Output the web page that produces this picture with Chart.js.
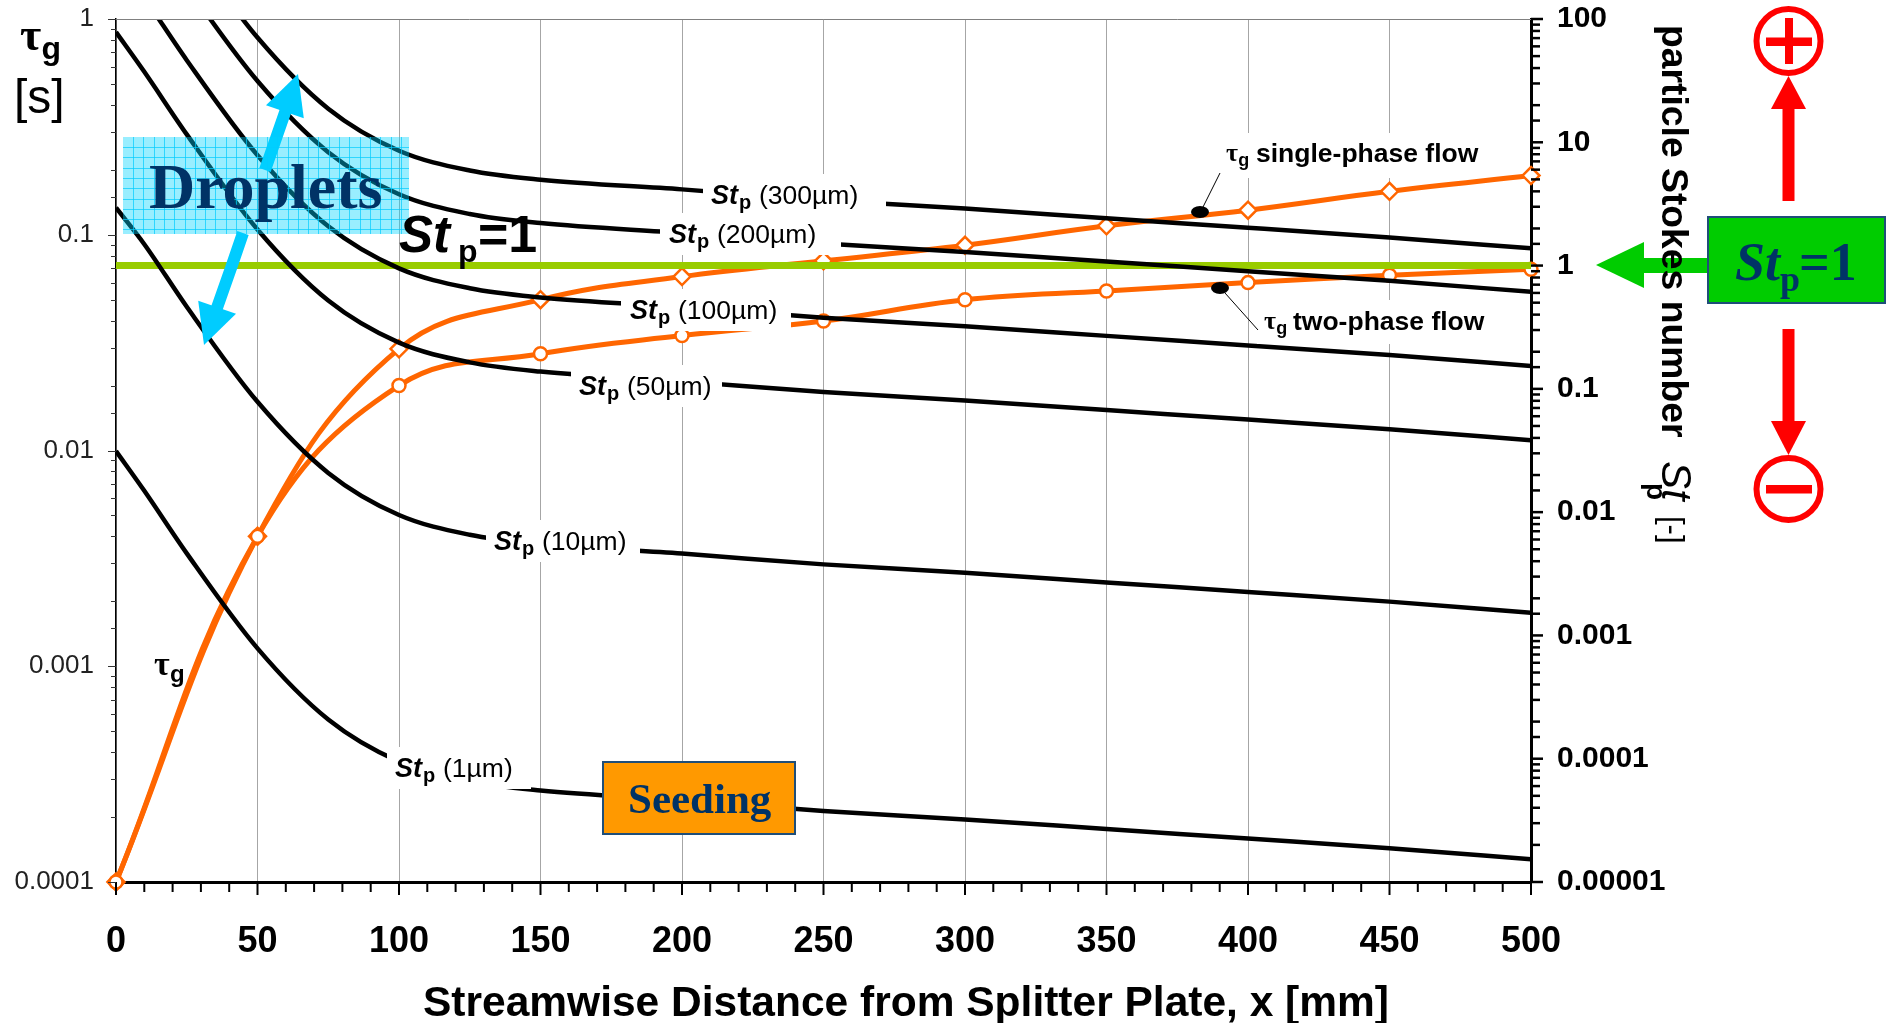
<!DOCTYPE html>
<html>
<head>
<meta charset="utf-8">
<title>Particle Stokes number</title>
<script src="https://cdn.jsdelivr.net/npm/chart.js@4/dist/chart.umd.min.js"></script>
<style>
    html, body { margin: 0; padding: 0; background: #fff; overflow: hidden; }
    canvas { display: block; }
</style>
</head>
<body>
<canvas id="stokesChart" width="1886" height="1023"></canvas>
<script>
// values
const distances = [0, 10, 25, 50, 75, 100, 125, 150, 200, 250, 300, 350, 400, 450, 500];
const st1um = [0.0313, 0.0149, 0.00463, 0.000785, 0.000208, 0.0000948, 0.0000655, 0.0000552, 0.0000461, 0.0000377, 0.0000322, 0.0000269, 0.0000225, 0.0000188, 0.0000153];
const st10um = [2.95, 1.49, 0.463, 0.0785, 0.0208, 0.00948, 0.00655, 0.00552, 0.00461, 0.00377, 0.00322, 0.00269, 0.00225, 0.00188, 0.00153];
const st50um = [78.3, 37.3, 11.6, 1.96, 0.52, 0.237, 0.164, 0.138, 0.115, 0.0943, 0.0805, 0.0673, 0.0563, 0.047, 0.0383];
const st100um = [313, 149, 46.3, 7.85, 2.08, 0.948, 0.655, 0.552, 0.461, 0.377, 0.322, 0.269, 0.225, 0.188, 0.153];
const st200um = [1252, 596, 185, 31.4, 8.32, 3.79, 2.62, 2.21, 1.84, 1.51, 1.29, 1.08, 0.9, 0.752, 0.612];
const st300um = [2817, 1341, 417, 70.7, 18.7, 8.53, 5.9, 4.97, 4.15, 3.39, 2.9, 2.42, 2.03, 1.69, 1.38];

const tauDistances = [0, 50, 100, 150, 200, 250, 300, 350, 400, 450, 500];
const tauSinglePhase = [0.0001, 0.004, 0.0296, 0.05, 0.064, 0.0757, 0.0894, 0.11, 0.13, 0.159, 0.188];
const tauTwoPhase = [0.0001, 0.004, 0.02, 0.0281, 0.0341, 0.0398, 0.05, 0.0549, 0.06, 0.0649, 0.0692];

const unityDistances = [0, 500];
const unityStokes = [1, 1];

const leftTickLabels = ['1', '0.1', '0.01', '0.001', '0.0001'];
const rightTickLabels = ['100', '10', '1', '0.1', '0.01', '0.001', '0.0001', '0.00001'];

const SANS = '"Liberation Sans", Arial, sans-serif';
const SERIF = '"Liberation Serif", "Times New Roman", serif';
const NAVY = '#003366';
const RED = '#ff0000';
const CYAN = '#00ccff';
const GREEN = '#00cc00';

function pairs(xs, ys) {
    return xs.map((x, i) => ({ x: x, y: ys[i] }));
}

function stDataset(values) {
    return {
        data: pairs(distances, values),
        yAxisID: 'yStokes',
        borderColor: '#000',
        borderWidth: 4.5,
        pointRadius: 0,
        cubicInterpolationMode: 'monotone',
        order: 1
    };
}

function tauDataset(values, marker) {
    return {
        data: pairs(tauDistances, values),
        yAxisID: 'yTau',
        borderColor: '#ff6600',
        borderWidth: 5,
        tension: 0.4,
        pointStyle: marker,
        pointRadius: marker === 'circle' ? 6.5 : 8.5,
        pointBorderWidth: 2.5,
        pointBackgroundColor: '#fff',
        pointBorderColor: '#ff6600',
        clip: false,
        order: 3
    };
}

// log scales would otherwise reserve half a label above the plot
function noPadding(scale) {
    scale.paddingTop = 0;
    scale.paddingBottom = 0;
    scale.paddingLeft = 0;
    scale.paddingRight = 0;
}

function text(ctx, str, x, y, font, color, align) {
    ctx.font = font;
    ctx.fillStyle = color || '#000';
    ctx.textAlign = align || 'left';
    ctx.textBaseline = 'alphabetic';
    ctx.fillText(str, x, y);
}

function arrowHead(ctx, tipX, tipY, angle, length, halfWidth) {
    ctx.save();
    ctx.translate(tipX, tipY);
    ctx.rotate(angle);
    ctx.beginPath();
    ctx.moveTo(0, 0);
    ctx.lineTo(-length, -halfWidth);
    ctx.lineTo(-length, halfWidth);
    ctx.closePath();
    ctx.fill();
    ctx.restore();
}

function whiteBox(ctx, x0, y0, x1, y1) {
    ctx.fillStyle = '#fff';
    ctx.fillRect(x0, y0, x1 - x0, y1 - y0);
}

// St_p (...) label on its white patch
function stLabel(ctx, size, textX, centerY, boxLeft, boxRight) {
    whiteBox(ctx, boxLeft, centerY - 21, boxRight, centerY + 21);
    const base = centerY + 9;
    text(ctx, 'St', textX, base, 'italic bold 27px ' + SANS);
    text(ctx, 'p', textX + 28, base + 5, 'bold 20px ' + SANS);
    text(ctx, '(' + size + ')', textX + 48, base, '26.5px ' + SANS);
}

function tauLabel(ctx, x, y, tauSize) {
    text(ctx, '\u03c4', x, y, 'bold ' + tauSize + 'px ' + SERIF);
    text(ctx, 'g', x + tauSize * 0.47, y + tauSize * 0.2, 'bold ' + Math.round(tauSize * 0.7) + 'px ' + SANS);
}

function drawTicks(ctx, chart) {
    const area = chart.chartArea;
    const xScale = chart.scales.x;
    const left = chart.scales.yTau;
    const right = chart.scales.yStokes;

    ctx.strokeStyle = '#808080';
    ctx.lineWidth = 1;
    ctx.beginPath();
    ctx.moveTo(area.left, area.top + 0.5);
    ctx.lineTo(area.right, area.top + 0.5);
    ctx.stroke();

    ctx.strokeStyle = '#000';
    xScale.ticks.forEach(t => {
        const px = xScale.getPixelForValue(t.value);
        const major = t.value % 50 === 0;
        ctx.lineWidth = 2;
        ctx.beginPath();
        ctx.moveTo(px, area.bottom);
        ctx.lineTo(px, area.bottom + (major ? 13 : 10));
        ctx.stroke();
    });

    ctx.strokeStyle = '#333';
    left.ticks.forEach(t => {
        const py = Math.round(left.getPixelForValue(t.value)) + 0.5;
        ctx.lineWidth = 1;
        ctx.beginPath();
        ctx.moveTo(area.left, py);
        ctx.lineTo(area.left - (t.major ? 8 : 5), py);
        ctx.stroke();
    });

    ctx.strokeStyle = '#000';
    right.ticks.forEach(t => {
        const py = right.getPixelForValue(t.value);
        ctx.lineWidth = 2.5;
        ctx.beginPath();
        ctx.moveTo(area.right, py);
        ctx.lineTo(area.right + (t.major ? 12 : 9), py);
        ctx.stroke();
    });
}

function drawCallouts(ctx) {
    // St_p curve labels
    stLabel(ctx, '300\u00b5m', 711, 195, 703, 886);
    stLabel(ctx, '200\u00b5m', 669, 234, 660, 841);
    stLabel(ctx, '100\u00b5m', 630, 310, 621, 791);
    stLabel(ctx, '50\u00b5m', 579, 386, 571, 722);
    stLabel(ctx, '10\u00b5m', 494, 541, 486, 640);
    stLabel(ctx, '1\u00b5m', 395, 768, 387, 531);

    // tau_g flow notes
    whiteBox(ctx, 1220, 133, 1482, 178);
    tauLabel(ctx, 1226, 161, 26);
    text(ctx, 'single-phase flow', 1256, 162, 'bold 26.5px ' + SANS);
    whiteBox(ctx, 1257, 300, 1490, 344);
    tauLabel(ctx, 1264, 329, 26);
    text(ctx, 'two-phase flow', 1293, 330, 'bold 26.5px ' + SANS);

    ctx.fillStyle = '#000';
    ctx.beginPath();
    ctx.ellipse(1200, 212, 9, 6, 0, 0, Math.PI * 2);
    ctx.fill();
    ctx.beginPath();
    ctx.ellipse(1220, 288, 9, 6, 0, 0, Math.PI * 2);
    ctx.fill();
    ctx.strokeStyle = '#000';
    ctx.lineWidth = 1;
    ctx.beginPath();
    ctx.moveTo(1203, 207);
    ctx.lineTo(1220, 173);
    ctx.moveTo(1225, 293);
    ctx.lineTo(1258, 330);
    ctx.stroke();

    tauLabel(ctx, 154, 675, 34);
}

function drawDroplets(ctx) {
    // double arrow sits under the hatched box, its middle hidden behind the word
    ctx.strokeStyle = CYAN;
    ctx.fillStyle = CYAN;
    ctx.lineWidth = 12;
    ctx.beginPath();
    ctx.moveTo(290, 98);
    ctx.lineTo(265, 170);
    ctx.moveTo(231, 268);
    ctx.lineTo(212, 322);
    ctx.moveTo(243, 233);
    ctx.lineTo(231, 268);
    ctx.stroke();
    const a = Math.atan2(345 - 74, 204 - 298);
    arrowHead(ctx, 298, 74, a + Math.PI, 40, 20);
    arrowHead(ctx, 204, 345, a, 40, 20);

    const box = { x: 123, y: 137, w: 286, h: 97 };
    ctx.fillStyle = 'rgba(0, 212, 255, 0.4)';
    ctx.fillRect(box.x, box.y, box.w, box.h);
    ctx.strokeStyle = 'rgba(0, 204, 255, 0.7)';
    ctx.lineWidth = 1;
    ctx.beginPath();
    for (let x = box.x + 10; x < box.x + box.w; x += 10.3) {
        ctx.moveTo(Math.round(x) + 0.5, box.y);
        ctx.lineTo(Math.round(x) + 0.5, box.y + box.h);
    }
    for (let y = box.y + 10; y < box.y + box.h; y += 10.3) {
        ctx.moveTo(box.x, Math.round(y) + 0.5);
        ctx.lineTo(box.x + box.w, Math.round(y) + 0.5);
    }
    ctx.stroke();
    text(ctx, 'Droplets', 149, 208, 'bold 64px ' + SERIF, NAVY);
}

function drawSeeding(ctx) {
    ctx.fillStyle = '#ff9900';
    ctx.fillRect(603, 762, 192, 72);
    ctx.strokeStyle = '#1f4e79';
    ctx.lineWidth = 2;
    ctx.strokeRect(603, 762, 192, 72);
    text(ctx, 'Seeding', 628, 813, 'bold 43px ' + SERIF, NAVY);
}

function drawUnityLabel(ctx) {
    text(ctx, 'St', 399, 252, 'italic bold 51px ' + SANS);
    text(ctx, 'p', 458, 262, 'bold 32px ' + SANS);
    text(ctx, '=1', 478, 252, 'bold 52px ' + SANS);
}

function drawAxisTitles(ctx) {
    text(ctx, 'Streamwise Distance from Splitter Plate, x [mm]', 906, 1016, 'bold 42.5px ' + SANS, '#000', 'center');

    tauLabel(ctx, 20, 50, 46);
    text(ctx, '[s]', 14, 113, '48px ' + SANS);

    ctx.save();
    ctx.translate(1662, 25);
    ctx.rotate(Math.PI / 2);
    text(ctx, 'particle Stokes number', 0, 0, 'bold 37.3px ' + SANS);
    text(ctx, 'St', 436, 0, 'italic 42px ' + SANS);
    text(ctx, 'p', 458, 15, 'bold 28px ' + SANS);
    text(ctx, '[-]', 491, 0, '31px ' + SANS);
    ctx.restore();
}

function drawRightPanel(ctx) {
    // green arrow and St_p=1 box
    ctx.fillStyle = GREEN;
    ctx.fillRect(1640, 258, 70, 15);
    arrowHead(ctx, 1596, 265, Math.PI, 48, 23);

    drawAxisTitles(ctx);

    ctx.fillStyle = GREEN;
    ctx.fillRect(1708, 217, 177, 86);
    ctx.strokeStyle = '#1f4e79';
    ctx.lineWidth = 2;
    ctx.strokeRect(1708, 217, 177, 86);
    text(ctx, 'St', 1735, 280, 'italic bold 54px ' + SERIF, NAVY);
    text(ctx, 'p', 1780, 291, 'bold 36px ' + SERIF, NAVY);
    text(ctx, '=1', 1799, 280, 'bold 54px ' + SERIF, NAVY);

    // plus and minus signs with arrows
    ctx.strokeStyle = RED;
    ctx.fillStyle = RED;
    ctx.lineWidth = 6;
    ctx.beginPath();
    ctx.ellipse(1788.5, 41, 32, 32, 0, 0, Math.PI * 2);
    ctx.stroke();
    ctx.fillRect(1766, 37.5, 46, 8.5);
    ctx.fillRect(1785, 18, 8, 46);
    ctx.beginPath();
    ctx.ellipse(1788.5, 489, 32, 31, 0, 0, Math.PI * 2);
    ctx.stroke();
    ctx.fillRect(1766, 485, 46, 8.5);

    ctx.fillRect(1782.5, 108, 12, 93);
    arrowHead(ctx, 1788.5, 76, -Math.PI / 2, 33, 17.5);
    ctx.fillRect(1782.5, 329, 12, 93);
    arrowHead(ctx, 1788.5, 455, Math.PI / 2, 34, 17.5);
}

const annotations = {
    id: 'annotations',
    afterDatasetsDraw(chart) {
        const ctx = chart.ctx;
        ctx.save();
        drawCallouts(ctx);
        drawTicks(ctx, chart);
        drawDroplets(ctx);
        drawSeeding(ctx);
        drawUnityLabel(ctx);
        drawRightPanel(ctx);
        ctx.restore();
    }
};

new Chart(document.getElementById('stokesChart'), {
    type: 'line',
    data: {
        datasets: [
            tauDataset(tauTwoPhase, 'circle'),
            tauDataset(tauSinglePhase, 'rectRot'),
            {
                data: pairs(unityDistances, unityStokes),
                yAxisID: 'yStokes',
                borderColor: '#99cc00',
                borderWidth: 7,
                pointRadius: 0,
                order: 2
            },
            stDataset(st1um),
            stDataset(st10um),
            stDataset(st50um),
            stDataset(st100um),
            stDataset(st200um),
            stDataset(st300um)
        ]
    },
    options: {
        responsive: false,
        animation: false,
        layout: { padding: { top: 19 } },
        plugins: {
            legend: { display: false },
            tooltip: { enabled: false }
        },
        scales: {
            x: {
                type: 'linear',
                min: 0,
                max: 500,
                afterFit: scale => { scale.height = 141; noPadding(scale); },
                ticks: {
                    stepSize: 10,
                    autoSkip: false,
                    maxRotation: 0,
                    padding: 38,
                    color: '#000',
                    font: { family: SANS, size: 36, weight: 'bold' },
                    callback: value => (value % 50 === 0 ? String(value) : '')
                },
                grid: {
                    drawTicks: false,
                    color: ctx => (ctx.tick && ctx.tick.value % 50 === 0 ? '#a6a6a6' : 'transparent'),
                    lineWidth: 1
                },
                border: { color: '#000', width: 3 }
            },
            yTau: {
                type: 'logarithmic',
                position: 'left',
                min: 0.0001,
                max: 1,
                afterFit: scale => { scale.width = 116; noPadding(scale); },
                ticks: {
                    autoSkip: false,
                    padding: 22,
                    color: '#222',
                    font: { family: SANS, size: 26 },
                    callback: value => {
                        const power = -Math.log10(value);
                        return Math.abs(power - Math.round(power)) < 1e-6 ? leftTickLabels[Math.round(power)] : '';
                    }
                },
                grid: { drawOnChartArea: false, drawTicks: false },
                border: { color: '#000', width: 1.5 }
            },
            yStokes: {
                type: 'logarithmic',
                position: 'right',
                min: 0.00001,
                max: 100,
                afterFit: scale => { scale.width = 355; noPadding(scale); },
                ticks: {
                    autoSkip: false,
                    padding: 26,
                    color: '#000',
                    font: { family: SANS, size: 30, weight: 'bold' },
                    callback: value => {
                        const power = 2 - Math.log10(value);
                        return Math.abs(power - Math.round(power)) < 1e-6 ? rightTickLabels[Math.round(power)] : '';
                    }
                },
                grid: { drawOnChartArea: false, drawTicks: false },
                border: { color: '#000', width: 3 }
            }
        }
    },
    plugins: [annotations]
});
</script>
</body>
</html>
